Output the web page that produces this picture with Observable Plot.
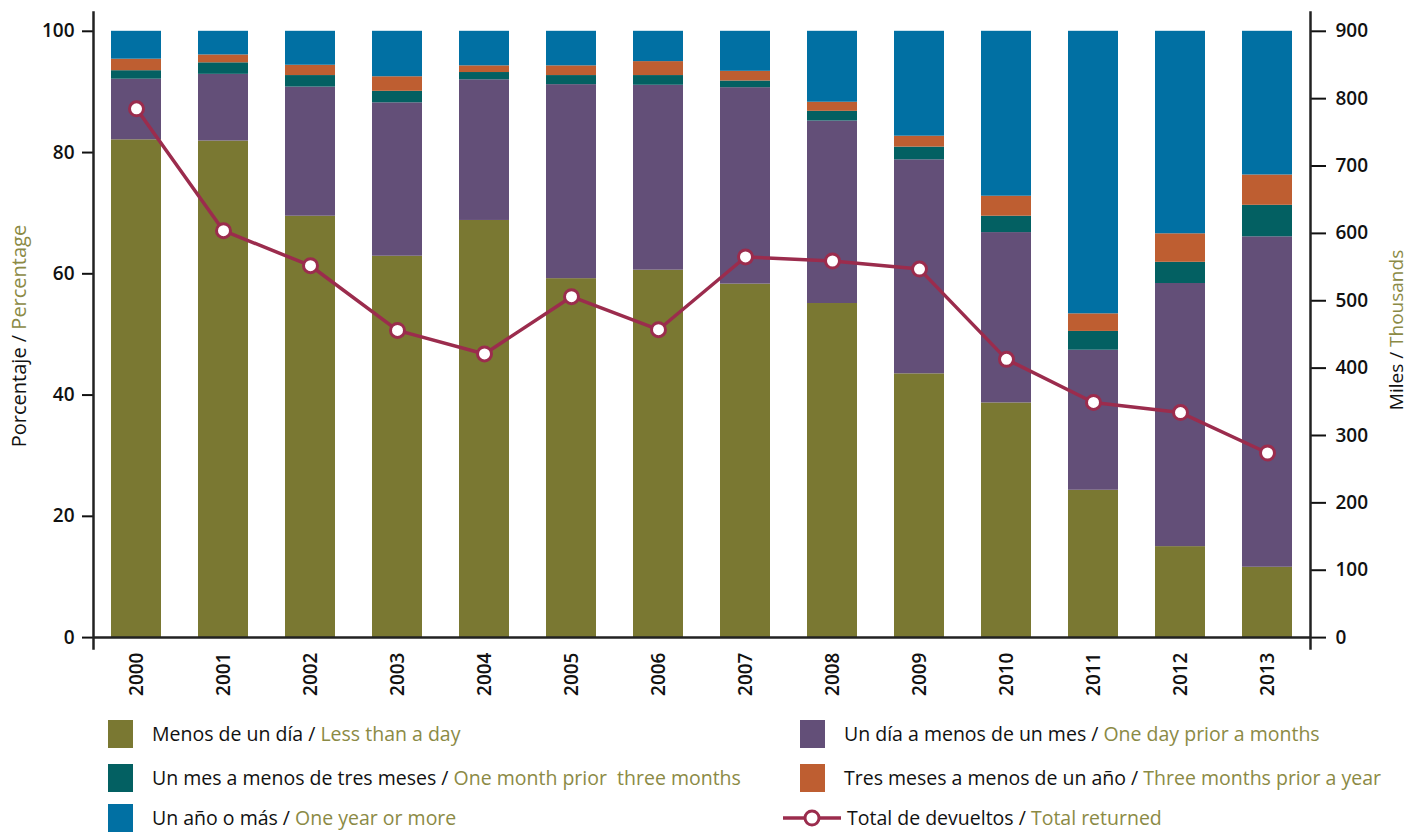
<!DOCTYPE html>
<html><head><meta charset="utf-8">
<script src="https://cdn.jsdelivr.net/npm/d3@7"></script>
<script src="https://cdn.jsdelivr.net/npm/@observablehq/plot@0.6"></script>
<style>
body{margin:0;background:#fff;font-family:"Open Sans",sans-serif}
#wrap{position:relative;width:1410px;height:832px;overflow:hidden;background:#fff}
#wrap svg{display:block}
.item{position:absolute;display:flex;align-items:center;font-size:19.5px;line-height:1;color:#111;white-space:nowrap;height:28px}
.sw{width:25px;height:28px;margin-right:19px;flex:none}
.en{color:#8b8a45}
</style>
</head><body>
<div id="wrap"></div>
<script>
const years = ["2000","2001","2002","2003","2004","2005","2006","2007","2008","2009","2010","2011","2012","2013"];
const categories = ["Menos de un día","Un día a menos de un mes","Un mes a menos de tres meses","Tres meses a menos de un año","Un año o más"];
const categoriesEn = ["Less than a day","One day prior a months","One month prior  three months","Three months prior a year","One year or more"];
const colors = ["#7a7832","#634f78","#036062","#be5e31","#0170a3"];
const lessThanDay   = [82.1,81.9,69.5,62.9,68.8,59.2,60.6,58.3,55.1,43.5,38.7,24.3,15.0,11.6];
const dayToMonth    = [10.0,11.0,21.3,25.3,23.2,32.0,30.5,32.4,30.1,35.3,28.1,23.1,43.4,54.5];
const monthToThree  = [1.4,1.9,1.9,1.9,1.2,1.5,1.6,1.1,1.6,2.1,2.7,3.1,3.5,5.2];
const threeToYear   = [1.9,1.3,1.7,2.4,1.1,1.6,2.3,1.6,1.5,1.8,3.3,2.9,4.7,5.0];
const yearOrMore    = [4.6,3.9,5.6,7.5,5.7,5.7,5.0,6.6,11.7,17.3,27.2,46.6,33.4,23.7];
const totalReturned = [785,604,552,456,421,506,457,565,559,547,413,349,334,274];
const percentTicks = [0,20,40,60,80,100];
const thousandTicks = [0,100,200,300,400,500,600,700,800,900];
const lineColor = "#9b2c4d";

const series = [lessThanDay, dayToMonth, monthToThree, threeToYear, yearOrMore];
const rows = [];
categories.forEach((c, k) => years.forEach((y, i) => rows.push({year: y, category: c, value: series[k][i]})));
const totals = years.map((y, i) => ({year: y, total: totalReturned[i]}));
const ratio = 900 / 100;

const plot = Plot.plot({
  width: 1410, height: 700,
  marginLeft: 93, marginRight: 100, marginTop: 12, marginBottom: 52,
  style: {fontFamily: "Open Sans", fontSize: "19px", fontWeight: 600, color: "#111", background: "white"},
  x: {domain: years, paddingInner: 0.425, paddingOuter: 0.195, label: null},
  y: {domain: [-1.8, 103.1], label: null},
  color: {domain: categories, range: colors},
  marks: [
    Plot.barY(rows, {x: "year", y: "value", fill: "category", order: categories}),
    Plot.line(totals, {x: "year", y: d => d.total / ratio, stroke: lineColor, strokeWidth: 3.5}),
    Plot.dot(totals, {x: "year", y: d => d.total / ratio, r: 7, fill: "white", stroke: lineColor, strokeWidth: 3}),
    Plot.axisY(percentTicks, {anchor: "left", tickSize: 11, tickPadding: 8, strokeWidth: 2, label: null}),
    Plot.axisY(thousandTicks.map(v => v / ratio), {anchor: "right", tickSize: 15, tickPadding: 10, strokeWidth: 2, tickFormat: v => Math.round(v * ratio), label: null}),
    Plot.axisX({tickRotate: -90, tickSize: 0, tickPadding: 4, label: null}),
    Plot.ruleY([0], {stroke: "#222", strokeWidth: 2.5}),
    Plot.frame({anchor: "left", stroke: "#222", strokeWidth: 2.5}),
    Plot.frame({anchor: "right", stroke: "#222", strokeWidth: 2.5})
  ]
});
const wrap = document.getElementById("wrap");
wrap.appendChild(plot);

// axis titles
const svg = d3.select(plot);
function title(x, y, es, en, size) {
  const t = svg.append("text")
    .attr("transform", `translate(${x},${y}) rotate(-90)`)
    .attr("text-anchor", "middle").attr("dy", "0.35em")
    .style("font-family", "Open Sans").style("font-size", size + "px").style("font-weight", 400);
  t.append("tspan").attr("fill", "#111").text(es + " / ");
  t.append("tspan").attr("fill", "#8b8a45").text(en);
}
title(19, 336, "Porcentaje", "Percentage", 20);
title(1396, 330, "Miles", "Thousands", 19);

// legend
const legendSlots = [[108, 720], [800, 720], [108, 764], [800, 764], [108, 804]];
categories.forEach((c, k) => {
  const [lx, ly] = legendSlots[k];
  const div = document.createElement("div");
  div.className = "item";
  div.style.left = lx + "px"; div.style.top = ly + "px";
  div.innerHTML = `<div class="sw" style="background:${colors[k]}"></div><span>${c} / <span class="en">${categoriesEn[k].replace("  ", "&nbsp; ")}</span></span>`;
  wrap.appendChild(div);
});
const li = document.createElement("div");
li.className = "item";
li.style.left = "782px"; li.style.top = "804px";
li.innerHTML = `<svg width="60" height="28" style="margin-right:5px"><line x1="1" x2="59" y1="14" y2="14" stroke="${lineColor}" stroke-width="3.5"/><circle cx="30" cy="14" r="7" fill="white" stroke="${lineColor}" stroke-width="3"/></svg><span>Total de devueltos / <span class="en">Total returned</span></span>`;
wrap.appendChild(li);
</script>
</body></html>
